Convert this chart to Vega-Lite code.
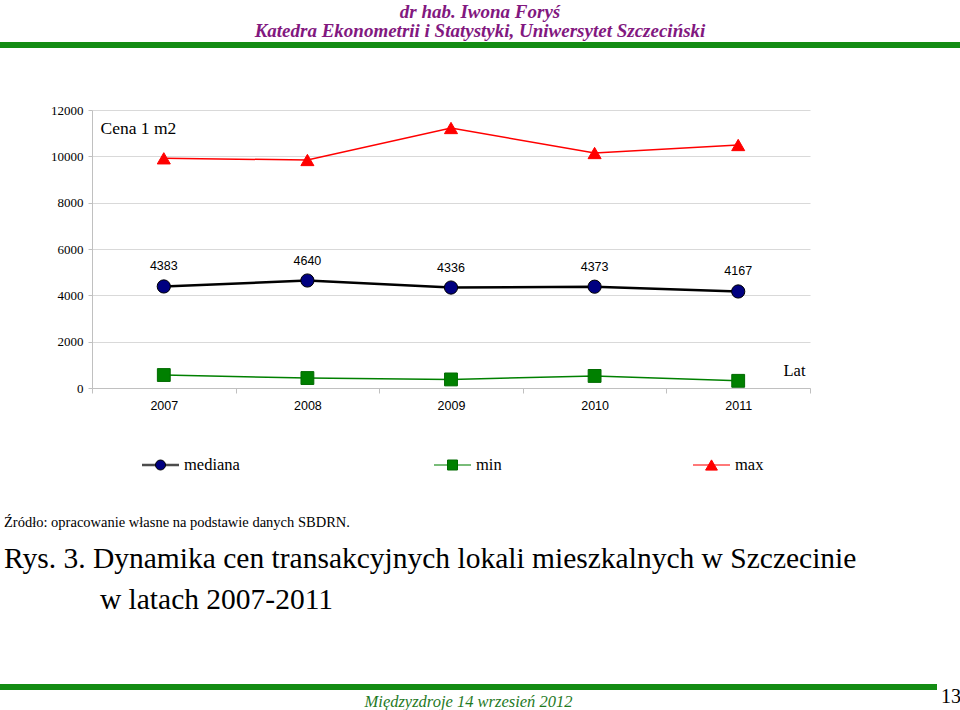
{
  "$schema": "https://vega.github.io/schema/vega-lite/v6.json",
  "background": "white",
  "padding": {"top": 3, "left": 0, "right": 0, "bottom": 0},
  "spacing": 0,
  "config": {"view": {"stroke": null}},
  "datasets": {
    "prices": [
      {"year": "2007", "series": "mediana", "value": 4383},
      {"year": "2008", "series": "mediana", "value": 4640},
      {"year": "2009", "series": "mediana", "value": 4336},
      {"year": "2010", "series": "mediana", "value": 4373},
      {"year": "2011", "series": "mediana", "value": 4167},
      {"year": "2007", "series": "min", "value": 560},
      {"year": "2008", "series": "min", "value": 430},
      {"year": "2009", "series": "min", "value": 370},
      {"year": "2010", "series": "min", "value": 520},
      {"year": "2011", "series": "min", "value": 310},
      {"year": "2007", "series": "max", "value": 9915},
      {"year": "2008", "series": "max", "value": 9842},
      {"year": "2009", "series": "max", "value": 11223},
      {"year": "2010", "series": "max", "value": 10144},
      {"year": "2011", "series": "max", "value": 10489}
    ],
    "legendEntries": [{"series": "mediana"}, {"series": "min"}, {"series": "max"}],
    "band": [{"part": "bar"}]
  },
  "vconcat": [
    {
      "width": 960,
      "height": 6,
      "data": {"name": "band"},
      "mark": {"type": "rect", "color": "#148c14"},
      "encoding": {},
      "title": {
        "text": ["dr hab. Iwona Foryś", "Katedra Ekonometrii i Statystyki, Uniwersytet Szczeciński"],
        "anchor": "middle",
        "frame": "group",
        "font": "Liberation Serif",
        "fontSize": 19,
        "fontStyle": "italic",
        "fontWeight": "bold",
        "color": "#82187f",
        "lineHeight": 19,
        "offset": 1
      }
    },
    {
      "width": 960,
      "height": 395,
      "data": {"name": "prices"},
      "encoding": {
        "x": {
          "field": "year",
          "type": "ordinal",
          "scale": {"type": "band", "range": [92, 810], "paddingInner": 0, "paddingOuter": 0},
          "axis": {
            "orient": "bottom",
            "offset": -55,
            "tickBand": "extent",
            "grid": false,
            "domainColor": "#c0c0c0",
            "tickColor": "#c0c0c0",
            "tickSize": 5,
            "labelAngle": 0,
            "labelFont": "Liberation Sans",
            "labelFontSize": 12.5,
            "labelColor": "#000000",
            "labelPadding": 6,
            "title": "Lat",
            "titleX": 783,
            "titleY": -18,
            "titleAlign": "left",
            "titleBaseline": "middle",
            "titleAngle": 0,
            "titleFont": "Liberation Serif",
            "titleFontSize": 16.5,
            "titleFontWeight": "normal",
            "titleColor": "#000000"
          }
        },
        "y": {
          "field": "value",
          "type": "quantitative",
          "scale": {"domain": [0, 12000], "range": [340, 62], "nice": false},
          "axis": {
            "orient": "left",
            "offset": -92,
            "values": [0, 2000, 4000, 6000, 8000, 10000, 12000],
            "format": "d",
            "grid": true,
            "gridColor": "#d9d9d9",
            "domainColor": "#c0c0c0",
            "tickColor": "#c0c0c0",
            "tickSize": 4,
            "labelFont": "Liberation Serif",
            "labelFontSize": 13,
            "labelColor": "#000000",
            "labelPadding": 5,
            "title": "Cena 1 m2",
            "titleAngle": 0,
            "titleX": 8,
            "titleY": 80,
            "titleAlign": "left",
            "titleBaseline": "middle",
            "titleFont": "Liberation Serif",
            "titleFontSize": 17.5,
            "titleFontWeight": "normal",
            "titleColor": "#000000"
          }
        }
      },
      "layer": [
        {
          "mark": {"type": "line"},
          "encoding": {
            "stroke": {
              "field": "series",
              "type": "nominal",
              "scale": {"domain": ["mediana", "min", "max"], "range": ["#000000", "#008000", "#ff0000"]},
              "legend": null
            },
            "strokeWidth": {"condition": {"test": "datum.series === 'mediana'", "value": 2.5}, "value": 1.5}
          }
        },
        {
          "transform": [{"filter": "datum.series === 'mediana'"}],
          "mark": {"type": "point", "shape": "circle", "size": 175, "opacity": 1, "filled": false, "fill": "#000080", "stroke": "#000000", "strokeWidth": 1}
        },
        {
          "transform": [{"filter": "datum.series === 'min'"}],
          "mark": {"type": "point", "shape": "square", "size": 165, "opacity": 1, "filled": false, "fill": "#008000", "stroke": "#006a00", "strokeWidth": 1}
        },
        {
          "transform": [{"filter": "datum.series === 'max'"}],
          "mark": {"type": "point", "shape": "triangle-up", "size": 170, "opacity": 1, "filled": false, "fill": "#ff0000", "stroke": "#ff0000", "strokeWidth": 1}
        },
        {
          "transform": [{"filter": "datum.series === 'mediana'"}],
          "mark": {"type": "text", "dy": -20, "font": "Liberation Sans", "fontSize": 12.5, "color": "#000000", "align": "center", "baseline": "middle"},
          "encoding": {
            "text": {"field": "value", "type": "quantitative", "format": "d"}
          }
        }
      ]
    },
    {
      "spacing": 0,
      "hconcat": [
        {
          "width": 142, "height": 72,
          "data": {"name": "band"},
          "mark": {"type": "rect", "opacity": 0},
          "encoding": {}
        },
        {
          "width": 37, "height": 44,
          "data": {"name": "legendEntries"},
          "transform": [{"filter": "datum.series === 'mediana'"}],
          "layer": [
            {"mark": {"type": "tick", "orient": "horizontal", "size": 37, "thickness": 2.5, "color": "#000000"}, "encoding": {}},
            {"mark": {"type": "point", "shape": "circle", "size": 100, "opacity": 1, "filled": false, "fill": "#000080", "stroke": "#000000", "strokeWidth": 1}, "encoding": {}},
            {"mark": {"type": "text", "align": "left", "baseline": "middle", "dx": 23.5, "font": "Liberation Serif", "fontSize": 16.5, "color": "#000000"}, "encoding": {"text": {"field": "series", "type": "nominal"}}}
          ]
        },
        {
          "width": 194, "height": 1,
          "data": {"name": "band"},
          "mark": {"type": "rect", "opacity": 0},
          "encoding": {}
        },
        {
          "width": 37, "height": 44,
          "data": {"name": "legendEntries"},
          "transform": [{"filter": "datum.series === 'min'"}],
          "layer": [
            {"mark": {"type": "tick", "orient": "horizontal", "size": 37, "thickness": 1.5, "color": "#008000"}, "encoding": {}},
            {"mark": {"type": "point", "shape": "square", "size": 100, "opacity": 1, "filled": false, "fill": "#008000", "stroke": "#006a00", "strokeWidth": 1}, "encoding": {}},
            {"mark": {"type": "text", "align": "left", "baseline": "middle", "dx": 23.5, "font": "Liberation Serif", "fontSize": 16.5, "color": "#000000"}, "encoding": {"text": {"field": "series", "type": "nominal"}}}
          ]
        },
        {
          "width": 191, "height": 1,
          "data": {"name": "band"},
          "mark": {"type": "rect", "opacity": 0},
          "encoding": {}
        },
        {
          "width": 37, "height": 44,
          "data": {"name": "legendEntries"},
          "transform": [{"filter": "datum.series === 'max'"}],
          "layer": [
            {"mark": {"type": "tick", "orient": "horizontal", "size": 37, "thickness": 1.5, "color": "#ff0000"}, "encoding": {}},
            {"mark": {"type": "point", "shape": "triangle-up", "size": 140, "opacity": 1, "filled": false, "fill": "#ff0000", "stroke": "#ff0000", "strokeWidth": 1}, "encoding": {}},
            {"mark": {"type": "text", "align": "left", "baseline": "middle", "dx": 23.5, "font": "Liberation Serif", "fontSize": 16.5, "color": "#000000"}, "encoding": {"text": {"field": "series", "type": "nominal"}}}
          ]
        }
      ]
    },
    {
      "spacing": 0,
      "title": {
        "text": "Źródło: opracowanie własne na podstawie danych SBDRN.",
        "subtitle": ["Rys. 3. Dynamika cen transakcyjnych lokali mieszkalnych w Szczecinie", "\u200b\u00a0\u00a0\u00a0\u00a0\u00a0\u00a0\u00a0\u00a0\u00a0\u00a0\u00a0\u00a0\u00a0w latach 2007-2011"],
        "orient": "top",
        "anchor": "start",
        "frame": "group",
        "offset": 69,
        "dx": 4,
        "font": "Liberation Serif",
        "fontSize": 14.5,
        "fontWeight": "normal",
        "color": "#000000",
        "subtitleFont": "Liberation Serif",
        "subtitleFontSize": 29.5,
        "subtitleColor": "#000000",
        "subtitleLineHeight": 41,
        "subtitlePadding": 14
      },
      "hconcat": [
        {
          "width": 937,
          "height": 6,
          "data": {"name": "band"},
          "mark": {"type": "rect", "color": "#148c14"},
          "encoding": {},
          "title": {
            "text": "Międzyzdroje 14 wrzesień 2012",
            "orient": "bottom",
            "anchor": "middle",
            "frame": "group",
            "offset": 4,
            "font": "Liberation Serif",
            "fontSize": 16.5,
            "fontStyle": "italic",
            "fontWeight": "normal",
            "color": "#1f7a1f"
          }
        },
        {
          "width": 4,
          "height": 6,
          "data": {"name": "band"},
          "mark": {"type": "rect", "opacity": 0},
          "encoding": {}
        },
        {
          "width": 15,
          "height": 6,
          "data": {"name": "band"},
          "mark": {"type": "rect", "opacity": 0},
          "encoding": {},
          "title": {
            "text": "13",
            "orient": "bottom",
            "anchor": "end",
            "frame": "group",
            "offset": -3,
            "font": "Liberation Serif",
            "fontSize": 20,
            "fontWeight": "normal",
            "color": "#000000"
          }
        }
      ]
    }
  ]
}
